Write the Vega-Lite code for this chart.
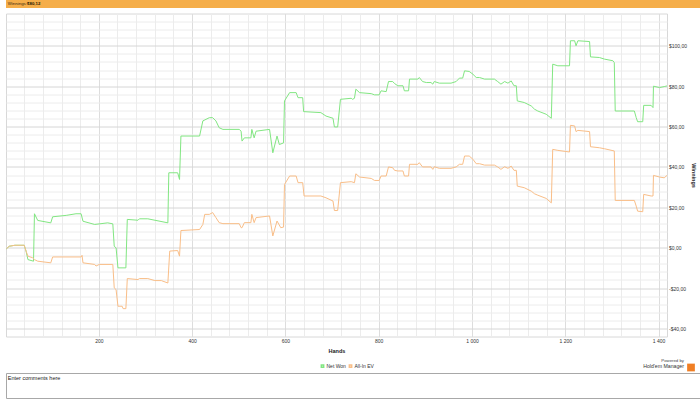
{
  "$schema": "https://vega.github.io/schema/vega-lite/v6.json",
  "padding": 0,
  "background": "white",
  "spacing": 4.5,
  "config": {
    "font": "Liberation Sans",
    "view": {"stroke": null},
    "axis": {"labelFont": "Liberation Sans", "titleFont": "Liberation Sans"},
    "legend": {"labelFont": "Liberation Sans", "titleFont": "Liberation Sans"}
  },
  "vconcat": [
    {
      "width": 700,
      "height": 8,
      "view": {"fill": "#f5ae4a", "stroke": null},
      "data": {"values": [{"label": "Winnings:", "amount": "$80,12"}]},
      "layer": [
        {
          "mark": {"type": "text", "align": "left", "baseline": "middle", "fontSize": 4.4, "color": "#3a2a10"},
          "encoding": {
            "x": {"datum": 0.25, "type": "quantitative", "scale": {"domain": [0, 100]}, "axis": null},
            "y": {"datum": 0.5, "type": "quantitative", "scale": {"domain": [0, 1]}, "axis": null},
            "text": {"field": "label"}
          }
        },
        {
          "mark": {"type": "text", "align": "left", "baseline": "middle", "fontSize": 4.4, "fontWeight": "bold", "color": "#2a1a00"},
          "encoding": {
            "x": {"datum": 3.0, "type": "quantitative", "scale": {"domain": [0, 100]}, "axis": null},
            "y": {"datum": 0.5, "type": "quantitative", "scale": {"domain": [0, 1]}, "axis": null},
            "text": {"field": "amount"}
          }
        }
      ]
    },
    {
      "spacing": 17.5,
      "vconcat": [
        {
          "width": 661,
          "height": 323,
          "view": {"stroke": "#d8d8d8", "fill": "white"},
          "data": {
            "values": [
              {"series": "Net Won", "hand": 2, "value": -0.5},
              {"series": "Net Won", "hand": 8, "value": 0.7},
              {"series": "Net Won", "hand": 20, "value": 1.2},
              {"series": "Net Won", "hand": 40, "value": 1.2},
              {"series": "Net Won", "hand": 44, "value": -1.7},
              {"series": "Net Won", "hand": 48, "value": -5.9},
              {"series": "Net Won", "hand": 60, "value": -6.7},
              {"series": "Net Won", "hand": 62, "value": 16.8},
              {"series": "Net Won", "hand": 69, "value": 13.5},
              {"series": "Net Won", "hand": 97, "value": 12.3},
              {"series": "Net Won", "hand": 101, "value": 15.3},
              {"series": "Net Won", "hand": 130, "value": 16.0},
              {"series": "Net Won", "hand": 151, "value": 16.8},
              {"series": "Net Won", "hand": 162, "value": 16.8},
              {"series": "Net Won", "hand": 166, "value": 13.1},
              {"series": "Net Won", "hand": 191, "value": 11.5},
              {"series": "Net Won", "hand": 219, "value": 12.3},
              {"series": "Net Won", "hand": 230, "value": 11.8},
              {"series": "Net Won", "hand": 233, "value": 0.7},
              {"series": "Net Won", "hand": 237, "value": -0.1},
              {"series": "Net Won", "hand": 241, "value": -10.0},
              {"series": "Net Won", "hand": 258, "value": -10.0},
              {"series": "Net Won", "hand": 261, "value": 14.0},
              {"series": "Net Won", "hand": 284, "value": 13.6},
              {"series": "Net Won", "hand": 287, "value": 14.3},
              {"series": "Net Won", "hand": 305, "value": 14.3},
              {"series": "Net Won", "hand": 348, "value": 12.3},
              {"series": "Net Won", "hand": 350, "value": 37.1},
              {"series": "Net Won", "hand": 369, "value": 37.1},
              {"series": "Net Won", "hand": 373, "value": 33.8},
              {"series": "Net Won", "hand": 376, "value": 55.3},
              {"series": "Net Won", "hand": 416, "value": 55.3},
              {"series": "Net Won", "hand": 423, "value": 62.8},
              {"series": "Net Won", "hand": 437, "value": 64.4},
              {"series": "Net Won", "hand": 444, "value": 64.4},
              {"series": "Net Won", "hand": 451, "value": 62.8},
              {"series": "Net Won", "hand": 458, "value": 59.4},
              {"series": "Net Won", "hand": 466, "value": 58.6},
              {"series": "Net Won", "hand": 501, "value": 58.6},
              {"series": "Net Won", "hand": 505, "value": 57.7},
              {"series": "Net Won", "hand": 507, "value": 52.8},
              {"series": "Net Won", "hand": 512, "value": 54.4},
              {"series": "Net Won", "hand": 526, "value": 54.4},
              {"series": "Net Won", "hand": 528, "value": 58.6},
              {"series": "Net Won", "hand": 533, "value": 54.4},
              {"series": "Net Won", "hand": 537, "value": 57.7},
              {"series": "Net Won", "hand": 566, "value": 58.6},
              {"series": "Net Won", "hand": 573, "value": 47.0},
              {"series": "Net Won", "hand": 582, "value": 55.3},
              {"series": "Net Won", "hand": 587, "value": 51.1},
              {"series": "Net Won", "hand": 596, "value": 51.9},
              {"series": "Net Won", "hand": 598, "value": 72.7},
              {"series": "Net Won", "hand": 609, "value": 76.8},
              {"series": "Net Won", "hand": 623, "value": 76.8},
              {"series": "Net Won", "hand": 627, "value": 74.3},
              {"series": "Net Won", "hand": 637, "value": 74.3},
              {"series": "Net Won", "hand": 639, "value": 67.4},
              {"series": "Net Won", "hand": 676, "value": 66.9},
              {"series": "Net Won", "hand": 687, "value": 65.2},
              {"series": "Net Won", "hand": 702, "value": 64.1},
              {"series": "Net Won", "hand": 705, "value": 59.8},
              {"series": "Net Won", "hand": 712, "value": 59.8},
              {"series": "Net Won", "hand": 718, "value": 73.5},
              {"series": "Net Won", "hand": 741, "value": 74.0},
              {"series": "Net Won", "hand": 744, "value": 73.5},
              {"series": "Net Won", "hand": 748, "value": 74.0},
              {"series": "Net Won", "hand": 751, "value": 78.5},
              {"series": "Net Won", "hand": 759, "value": 76.8},
              {"series": "Net Won", "hand": 784, "value": 76.3},
              {"series": "Net Won", "hand": 791, "value": 75.7},
              {"series": "Net Won", "hand": 801, "value": 75.7},
              {"series": "Net Won", "hand": 805, "value": 77.7},
              {"series": "Net Won", "hand": 816, "value": 77.3},
              {"series": "Net Won", "hand": 821, "value": 82.3},
              {"series": "Net Won", "hand": 830, "value": 82.3},
              {"series": "Net Won", "hand": 834, "value": 81.3},
              {"series": "Net Won", "hand": 841, "value": 80.2},
              {"series": "Net Won", "hand": 852, "value": 80.2},
              {"series": "Net Won", "hand": 855, "value": 77.7},
              {"series": "Net Won", "hand": 864, "value": 77.7},
              {"series": "Net Won", "hand": 866, "value": 83.5},
              {"series": "Net Won", "hand": 884, "value": 83.5},
              {"series": "Net Won", "hand": 887, "value": 84.3},
              {"series": "Net Won", "hand": 894, "value": 82.3},
              {"series": "Net Won", "hand": 902, "value": 81.8},
              {"series": "Net Won", "hand": 912, "value": 81.8},
              {"series": "Net Won", "hand": 916, "value": 81.0},
              {"series": "Net Won", "hand": 919, "value": 82.3},
              {"series": "Net Won", "hand": 930, "value": 81.5},
              {"series": "Net Won", "hand": 955, "value": 81.5},
              {"series": "Net Won", "hand": 966, "value": 82.3},
              {"series": "Net Won", "hand": 973, "value": 84.0},
              {"series": "Net Won", "hand": 980, "value": 84.0},
              {"series": "Net Won", "hand": 984, "value": 87.6},
              {"series": "Net Won", "hand": 994, "value": 87.3},
              {"series": "Net Won", "hand": 1002, "value": 85.9},
              {"series": "Net Won", "hand": 1009, "value": 84.3},
              {"series": "Net Won", "hand": 1016, "value": 84.3},
              {"series": "Net Won", "hand": 1027, "value": 83.5},
              {"series": "Net Won", "hand": 1048, "value": 83.5},
              {"series": "Net Won", "hand": 1055, "value": 82.3},
              {"series": "Net Won", "hand": 1062, "value": 81.0},
              {"series": "Net Won", "hand": 1070, "value": 82.3},
              {"series": "Net Won", "hand": 1077, "value": 81.5},
              {"series": "Net Won", "hand": 1084, "value": 82.6},
              {"series": "Net Won", "hand": 1090, "value": 80.2},
              {"series": "Net Won", "hand": 1095, "value": 80.2},
              {"series": "Net Won", "hand": 1097, "value": 72.7},
              {"series": "Net Won", "hand": 1112, "value": 71.9},
              {"series": "Net Won", "hand": 1127, "value": 70.2},
              {"series": "Net Won", "hand": 1134, "value": 68.6},
              {"series": "Net Won", "hand": 1141, "value": 67.7},
              {"series": "Net Won", "hand": 1159, "value": 66.1},
              {"series": "Net Won", "hand": 1170, "value": 64.1},
              {"series": "Net Won", "hand": 1173, "value": 90.9},
              {"series": "Net Won", "hand": 1184, "value": 90.1},
              {"series": "Net Won", "hand": 1209, "value": 90.1},
              {"series": "Net Won", "hand": 1211, "value": 102.5},
              {"series": "Net Won", "hand": 1220, "value": 102.5},
              {"series": "Net Won", "hand": 1223, "value": 100.0},
              {"series": "Net Won", "hand": 1227, "value": 102.5},
              {"series": "Net Won", "hand": 1252, "value": 102.1},
              {"series": "Net Won", "hand": 1254, "value": 94.5},
              {"series": "Net Won", "hand": 1273, "value": 94.2},
              {"series": "Net Won", "hand": 1284, "value": 93.4},
              {"series": "Net Won", "hand": 1302, "value": 92.6},
              {"series": "Net Won", "hand": 1305, "value": 91.7},
              {"series": "Net Won", "hand": 1307, "value": 67.7},
              {"series": "Net Won", "hand": 1348, "value": 67.7},
              {"series": "Net Won", "hand": 1352, "value": 64.4},
              {"series": "Net Won", "hand": 1355, "value": 62.4},
              {"series": "Net Won", "hand": 1366, "value": 62.4},
              {"series": "Net Won", "hand": 1368, "value": 70.5},
              {"series": "Net Won", "hand": 1384, "value": 70.5},
              {"series": "Net Won", "hand": 1388, "value": 69.4},
              {"series": "Net Won", "hand": 1389, "value": 80.0},
              {"series": "Net Won", "hand": 1402, "value": 79.3},
              {"series": "Net Won", "hand": 1412, "value": 79.8},
              {"series": "Net Won", "hand": 1418, "value": 80.12},
              {"series": "All-In EV", "hand": 2, "value": -0.5},
              {"series": "All-In EV", "hand": 8, "value": 0.7},
              {"series": "All-In EV", "hand": 20, "value": 1.2},
              {"series": "All-In EV", "hand": 40, "value": 1.2},
              {"series": "All-In EV", "hand": 44, "value": -1.7},
              {"series": "All-In EV", "hand": 48, "value": -4.2},
              {"series": "All-In EV", "hand": 58, "value": -5.0},
              {"series": "All-In EV", "hand": 62, "value": -5.9},
              {"series": "All-In EV", "hand": 69, "value": -6.7},
              {"series": "All-In EV", "hand": 97, "value": -7.5},
              {"series": "All-In EV", "hand": 101, "value": -4.6},
              {"series": "All-In EV", "hand": 162, "value": -4.6},
              {"series": "All-In EV", "hand": 164, "value": -3.8},
              {"series": "All-In EV", "hand": 166, "value": -7.5},
              {"series": "All-In EV", "hand": 191, "value": -8.3},
              {"series": "All-In EV", "hand": 194, "value": -9.1},
              {"series": "All-In EV", "hand": 201, "value": -8.3},
              {"series": "All-In EV", "hand": 230, "value": -8.3},
              {"series": "All-In EV", "hand": 233, "value": -19.9},
              {"series": "All-In EV", "hand": 237, "value": -20.8},
              {"series": "All-In EV", "hand": 241, "value": -29.0},
              {"series": "All-In EV", "hand": 250, "value": -29.0},
              {"series": "All-In EV", "hand": 252, "value": -30.2},
              {"series": "All-In EV", "hand": 258, "value": -30.2},
              {"series": "All-In EV", "hand": 261, "value": -15.3},
              {"series": "All-In EV", "hand": 284, "value": -15.8},
              {"series": "All-In EV", "hand": 287, "value": -15.3},
              {"series": "All-In EV", "hand": 305, "value": -15.3},
              {"series": "All-In EV", "hand": 320, "value": -16.3},
              {"series": "All-In EV", "hand": 334, "value": -16.3},
              {"series": "All-In EV", "hand": 348, "value": -17.5},
              {"series": "All-In EV", "hand": 352, "value": -1.7},
              {"series": "All-In EV", "hand": 369, "value": -1.4},
              {"series": "All-In EV", "hand": 373, "value": -4.2},
              {"series": "All-In EV", "hand": 376, "value": 8.5},
              {"series": "All-In EV", "hand": 416, "value": 9.0},
              {"series": "All-In EV", "hand": 423, "value": 11.5},
              {"series": "All-In EV", "hand": 427, "value": 16.5},
              {"series": "All-In EV", "hand": 437, "value": 16.5},
              {"series": "All-In EV", "hand": 444, "value": 17.4},
              {"series": "All-In EV", "hand": 451, "value": 14.9},
              {"series": "All-In EV", "hand": 458, "value": 12.4},
              {"series": "All-In EV", "hand": 466, "value": 11.9},
              {"series": "All-In EV", "hand": 501, "value": 11.9},
              {"series": "All-In EV", "hand": 505, "value": 9.9},
              {"series": "All-In EV", "hand": 507, "value": 9.9},
              {"series": "All-In EV", "hand": 512, "value": 12.4},
              {"series": "All-In EV", "hand": 526, "value": 12.4},
              {"series": "All-In EV", "hand": 528, "value": 16.5},
              {"series": "All-In EV", "hand": 533, "value": 12.4},
              {"series": "All-In EV", "hand": 537, "value": 14.9},
              {"series": "All-In EV", "hand": 566, "value": 15.7},
              {"series": "All-In EV", "hand": 573, "value": 5.8},
              {"series": "All-In EV", "hand": 582, "value": 13.2},
              {"series": "All-In EV", "hand": 590, "value": 9.9},
              {"series": "All-In EV", "hand": 596, "value": 10.2},
              {"series": "All-In EV", "hand": 598, "value": 31.3},
              {"series": "All-In EV", "hand": 609, "value": 35.5},
              {"series": "All-In EV", "hand": 623, "value": 35.5},
              {"series": "All-In EV", "hand": 627, "value": 32.2},
              {"series": "All-In EV", "hand": 637, "value": 32.2},
              {"series": "All-In EV", "hand": 640, "value": 25.6},
              {"series": "All-In EV", "hand": 676, "value": 25.6},
              {"series": "All-In EV", "hand": 687, "value": 24.7},
              {"series": "All-In EV", "hand": 702, "value": 23.1},
              {"series": "All-In EV", "hand": 705, "value": 18.4},
              {"series": "All-In EV", "hand": 712, "value": 18.4},
              {"series": "All-In EV", "hand": 718, "value": 32.2},
              {"series": "All-In EV", "hand": 741, "value": 32.7},
              {"series": "All-In EV", "hand": 748, "value": 32.2},
              {"series": "All-In EV", "hand": 751, "value": 36.6},
              {"series": "All-In EV", "hand": 759, "value": 35.0},
              {"series": "All-In EV", "hand": 784, "value": 34.3},
              {"series": "All-In EV", "hand": 791, "value": 33.3},
              {"series": "All-In EV", "hand": 801, "value": 33.3},
              {"series": "All-In EV", "hand": 805, "value": 35.5},
              {"series": "All-In EV", "hand": 816, "value": 35.5},
              {"series": "All-In EV", "hand": 821, "value": 40.0},
              {"series": "All-In EV", "hand": 830, "value": 39.6},
              {"series": "All-In EV", "hand": 834, "value": 38.3},
              {"series": "All-In EV", "hand": 841, "value": 38.0},
              {"series": "All-In EV", "hand": 852, "value": 38.0},
              {"series": "All-In EV", "hand": 855, "value": 35.5},
              {"series": "All-In EV", "hand": 864, "value": 35.5},
              {"series": "All-In EV", "hand": 866, "value": 41.3},
              {"series": "All-In EV", "hand": 884, "value": 41.3},
              {"series": "All-In EV", "hand": 887, "value": 42.1},
              {"series": "All-In EV", "hand": 894, "value": 40.0},
              {"series": "All-In EV", "hand": 912, "value": 40.0},
              {"series": "All-In EV", "hand": 916, "value": 38.8},
              {"series": "All-In EV", "hand": 919, "value": 40.1},
              {"series": "All-In EV", "hand": 930, "value": 39.3},
              {"series": "All-In EV", "hand": 955, "value": 39.3},
              {"series": "All-In EV", "hand": 966, "value": 40.0},
              {"series": "All-In EV", "hand": 973, "value": 41.3},
              {"series": "All-In EV", "hand": 980, "value": 41.3},
              {"series": "All-In EV", "hand": 984, "value": 45.4},
              {"series": "All-In EV", "hand": 994, "value": 45.4},
              {"series": "All-In EV", "hand": 1002, "value": 43.8},
              {"series": "All-In EV", "hand": 1009, "value": 41.6},
              {"series": "All-In EV", "hand": 1016, "value": 41.6},
              {"series": "All-In EV", "hand": 1027, "value": 40.9},
              {"series": "All-In EV", "hand": 1048, "value": 40.9},
              {"series": "All-In EV", "hand": 1055, "value": 40.0},
              {"series": "All-In EV", "hand": 1062, "value": 38.8},
              {"series": "All-In EV", "hand": 1070, "value": 40.1},
              {"series": "All-In EV", "hand": 1077, "value": 39.3},
              {"series": "All-In EV", "hand": 1084, "value": 40.4},
              {"series": "All-In EV", "hand": 1090, "value": 38.3},
              {"series": "All-In EV", "hand": 1095, "value": 38.3},
              {"series": "All-In EV", "hand": 1097, "value": 30.5},
              {"series": "All-In EV", "hand": 1112, "value": 29.7},
              {"series": "All-In EV", "hand": 1127, "value": 28.0},
              {"series": "All-In EV", "hand": 1134, "value": 26.7},
              {"series": "All-In EV", "hand": 1141, "value": 26.0},
              {"series": "All-In EV", "hand": 1159, "value": 24.4},
              {"series": "All-In EV", "hand": 1170, "value": 22.2},
              {"series": "All-In EV", "hand": 1173, "value": 48.7},
              {"series": "All-In EV", "hand": 1184, "value": 48.2},
              {"series": "All-In EV", "hand": 1209, "value": 47.4},
              {"series": "All-In EV", "hand": 1211, "value": 60.6},
              {"series": "All-In EV", "hand": 1220, "value": 60.3},
              {"series": "All-In EV", "hand": 1223, "value": 57.5},
              {"series": "All-In EV", "hand": 1227, "value": 58.1},
              {"series": "All-In EV", "hand": 1252, "value": 57.5},
              {"series": "All-In EV", "hand": 1254, "value": 50.0},
              {"series": "All-In EV", "hand": 1273, "value": 49.5},
              {"series": "All-In EV", "hand": 1284, "value": 49.0},
              {"series": "All-In EV", "hand": 1305, "value": 47.9},
              {"series": "All-In EV", "hand": 1307, "value": 23.4},
              {"series": "All-In EV", "hand": 1348, "value": 23.4},
              {"series": "All-In EV", "hand": 1352, "value": 20.6},
              {"series": "All-In EV", "hand": 1355, "value": 18.1},
              {"series": "All-In EV", "hand": 1366, "value": 17.8},
              {"series": "All-In EV", "hand": 1368, "value": 26.4},
              {"series": "All-In EV", "hand": 1384, "value": 25.6},
              {"series": "All-In EV", "hand": 1388, "value": 25.6},
              {"series": "All-In EV", "hand": 1389, "value": 35.8},
              {"series": "All-In EV", "hand": 1402, "value": 35.0},
              {"series": "All-In EV", "hand": 1412, "value": 34.6},
              {"series": "All-In EV", "hand": 1418, "value": 35.8}
            ]
          },
          "layer": [
            {
              "mark": {"type": "line", "strokeWidth": 1, "interpolate": "linear"},
              "encoding": {
                "x": {
                  "field": "hand", "type": "quantitative",
                  "scale": {"domain": [1, 1418], "nice": false, "zero": false},
                  "axis": {
                    "values": [40, 80, 120, 160, 200, 240, 280, 320, 360, 400, 440, 480, 520, 560, 600, 640, 680, 720, 760, 800, 840, 880, 920, 960, 1000, 1040, 1080, 1120, 1160, 1200, 1240, 1280, 1320, 1360, 1400],
                    "labelExpr": "datum.value % 200 === 0 ? (datum.value >= 1000 ? floor(datum.value / 1000) + ' ' + slice('00' + (datum.value % 1000), -3) : '' + datum.value) : ''",
                    "labelFontSize": 5, "labelColor": "#333333", "labelPadding": 2,
                    "labelOverlap": false, "labelFlush": false,
                    "ticks": false, "domain": false,
                    "grid": true,
                    "gridColor": {"condition": {"test": "datum.value % 200 === 0", "value": "#dddddd"}, "value": "#ececec"},
                    "title": "Hands", "titleFontSize": 5.5, "titleFontWeight": "bold", "titleColor": "#222222", "titlePadding": 4.5
                  }
                },
                "y": {
                  "field": "value", "type": "quantitative",
                  "scale": {"domain": [-44, 116], "nice": false, "zero": false},
                  "axis": {
                    "orient": "right",
                    "values": [-40, -36, -32, -28, -24, -20, -16, -12, -8, -4, 0, 4, 8, 12, 16, 20, 24, 28, 32, 36, 40, 44, 48, 52, 56, 60, 64, 68, 72, 76, 80, 84, 88, 92, 96, 100, 104, 108, 112],
                    "labelExpr": "datum.value % 20 === 0 ? (datum.value < 0 ? '-$' : '$') + abs(datum.value) + ',00' : ''",
                    "labelFontSize": 5, "labelColor": "#333333", "labelPadding": 1.5,
                    "labelOverlap": false, "labelFlush": false,
                    "ticks": false, "domain": false,
                    "grid": true,
                    "gridColor": {"condition": {"test": "datum.value % 20 === 0", "value": "#d6d6d6"}, "value": "#ececec"},
                    "title": "Winnings", "titleFontSize": 5.5, "titleFontWeight": "bold", "titleColor": "#222222", "titlePadding": 4
                  }
                },
                "color": {
                  "field": "series", "type": "nominal",
                  "scale": {"domain": ["Net Won", "All-In EV"], "range": ["#82e682", "#f9be88"]},
                  "legend": {
                    "title": null, "orient": "none", "legendX": 314, "legendY": 363.5,
                    "direction": "horizontal", "symbolType": "square", "symbolSize": 5,
                    "symbolStrokeWidth": 1.6, "labelFontSize": 5, "labelColor": "#333333",
                    "labelOffset": 1.5, "columnPadding": 0
                  }
                }
              }
            },
            {
              "mark": {"type": "rule", "opacity": 0},
              "encoding": {
                "y": {
                  "field": "value", "type": "quantitative",
                  "axis": {"orient": "left", "labels": false, "ticks": false, "domain": false, "grid": false, "title": null, "minExtent": 5, "maxExtent": 5}
                }
              }
            },
            {
              "mark": {"type": "point", "opacity": 0},
              "encoding": {
                "fill": {
                  "datum": "Hold'em Manager", "type": "nominal",
                  "scale": {"range": ["#f07f25"]},
                  "legend": {
                    "title": "Powered by", "orient": "none", "legendX": 632, "legendY": 359.2,
                    "titleAnchor": "end", "titleFontSize": 4.3, "titleFontWeight": "normal", "titleColor": "#444444",
                    "titlePadding": 0,
                    "symbolSize": 1, "symbolOpacity": 0, "labelOffset": 0,
                    "labelFontSize": 5.2, "labelColor": "#333333"
                  }
                }
              }
            },
            {
              "mark": {"type": "point", "filled": true, "size": 0, "color": "#f07f25"},
              "encoding": {
                "shape": {
                  "datum": "icon", "type": "nominal",
                  "scale": {"range": ["square"]},
                  "legend": {
                    "title": null, "orient": "none", "legendX": 681, "legendY": 363.5,
                    "symbolSize": 60, "symbolFillColor": "#f07f25", "symbolStrokeWidth": 0, "symbolOpacity": 1,
                    "labelOpacity": 0, "labelFontSize": 1, "labelOffset": 0
                  }
                }
              }
            }
          ],
          "resolve": {"axis": {"y": "independent"}}
        },
        {
          "width": 699,
          "height": 25,
          "view": {"stroke": "#a8a8a8", "fill": "white"},
          "data": {"values": [{"note": "Enter comments here"}]},
          "mark": {"type": "text", "align": "left", "baseline": "middle", "fontSize": 5.5, "color": "#222222"},
          "encoding": {
            "x": {"datum": 0.25, "type": "quantitative", "scale": {"domain": [0, 100]}, "axis": null},
            "y": {"datum": 0.82, "type": "quantitative", "scale": {"domain": [0, 1]}, "axis": null},
            "text": {"field": "note"}
          }
        }
      ]
    }
  ]
}
